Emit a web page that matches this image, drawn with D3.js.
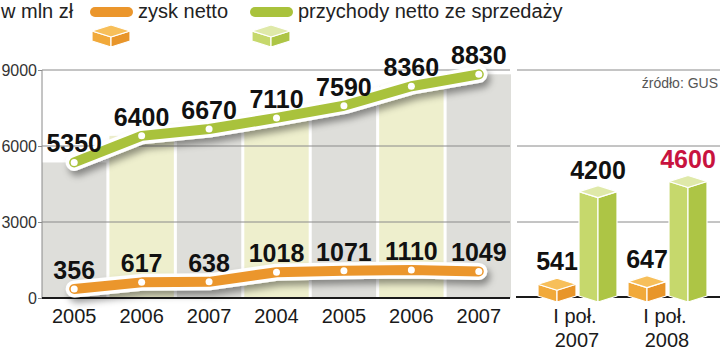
<!DOCTYPE html>
<html lang="pl">
<head>
<meta charset="utf-8">
<title>Zysk i przychody netto</title>
<script src="https://d3js.org/d3.v7.min.js"></script>
<style>
    body { margin: 0; background: #fff; }
    svg { display: block; font-family: "Liberation Sans", Arial, sans-serif; }
    .grid line { stroke: #8a8a8a; stroke-width: 1; }
    .val { font-weight: bold; font-size: 25px; text-anchor: middle; }
    .cat { font-size: 20px; fill: #1a1a1a; text-anchor: middle; }
</style>
</head>
<body>
<script>
// data
const years = ["2005", "2006", "2007", "2004", "2005", "2006", "2007"];
const zysk = [356, 617, 638, 1018, 1071, 1110, 1049];
const przychody = [5350, 6400, 6670, 7110, 7590, 8360, 8830];

const halfYears = ["I poł. 2007", "I poł. 2008"];
const zyskH = [541, 647];
const przychodyH = [4200, 4600];

const yTicks = [0, 3000, 6000, 9000];

const w = 720, h = 352;
const orange = "#eb962c", green = "#a9c23c";

const svg = d3.select("body").append("svg")
    .attr("width", w)
    .attr("height", h);

// shadow for the lines
const defs = svg.append("defs");
defs.append("filter").attr("id", "shadow")
    .attr("x", "-10%").attr("y", "-50%").attr("width", "130%").attr("height", "250%")
  .append("feDropShadow")
    .attr("dx", 3).attr("dy", 5).attr("stdDeviation", 3.5)
    .attr("flood-color", "#000").attr("flood-opacity", 0.4);

// scales
const y = d3.scaleLinear().domain([0, 9000]).range([298, 70]);
const x = d3.scaleBand().domain(d3.range(years.length)).range([42, 511]).paddingInner(0.045);
const xr = d3.scaleBand().domain(halfYears).range([532, 712]);

// background columns (revenue)
svg.append("g").selectAll("rect")
    .data(przychody)
    .join("rect")
    .attr("x", (d, i) => x(i))
    .attr("y", d => y(d))
    .attr("width", x.bandwidth())
    .attr("height", d => y(0) - y(d))
    .attr("fill", (d, i) => i % 2 ? "#eeefcd" : "#dededa");

// grid lines
const grid = svg.append("g").attr("class", "grid");
grid.selectAll("line.l")
    .data(yTicks.slice(1))
    .join("line").attr("class", "l")
    .attr("x1", 42).attr("x2", 510)
    .attr("y1", d => y(d)).attr("y2", d => y(d));
grid.selectAll("line.r")
    .data(yTicks.slice(1))
    .join("line").attr("class", "r")
    .attr("x1", 517).attr("x2", 720)
    .attr("y1", d => y(d)).attr("y2", d => y(d));
grid.append("line")
    .attr("x1", 42).attr("x2", 42)
    .attr("y1", y(9000)).attr("y2", y(0));

// left axis
const leftAxis = d3.axisLeft(y).tickValues(yTicks).tickSize(4).tickFormat(d3.format("d"));
const ax = svg.append("g")
    .attr("transform", "translate(42,0)")
    .call(leftAxis);
ax.select(".domain").remove();
ax.selectAll(".tick line").attr("stroke", "#8a8a8a");
ax.selectAll(".tick text")
    .attr("font-family", "Liberation Sans, Arial, sans-serif")
    .attr("font-size", 16)
    .attr("fill", "#333")
    .attr("x", -5);

// baselines
svg.append("line")
    .attr("x1", 42).attr("x2", 510)
    .attr("y1", y(0)).attr("y2", y(0))
    .attr("stroke", "#1a1a1a").attr("stroke-width", 2);
svg.append("line")
    .attr("x1", 516).attr("x2", 720)
    .attr("y1", y(0) - 1).attr("y2", y(0) - 1)
    .attr("stroke", "#1a1a1a").attr("stroke-width", 2);

// lines
const cx = i => x(i) + x.bandwidth() / 2;
function drawLine(values, color) {
    const line = d3.line()
        .x((d, i) => cx(i))
        .y(d => y(d));
    const g = svg.append("g");
    g.append("path")
        .attr("d", line(values))
        .attr("fill", "none")
        .attr("stroke", "#fff")
        .attr("stroke-width", 17)
        .attr("stroke-linecap", "round")
        .attr("stroke-linejoin", "round")
        .attr("filter", "url(#shadow)");
    g.append("path")
        .attr("d", line(values))
        .attr("fill", "none")
        .attr("stroke", color)
        .attr("stroke-width", 10)
        .attr("stroke-linecap", "round")
        .attr("stroke-linejoin", "round");
    g.selectAll("circle")
        .data(values)
        .join("circle")
        .attr("cx", (d, i) => cx(i))
        .attr("cy", d => y(d))
        .attr("r", 3.5)
        .attr("fill", "#fff");
    svg.append("g").selectAll("text")
        .data(values)
        .join("text")
        .attr("class", "val")
        .attr("x", (d, i) => cx(i))
        .attr("y", d => y(d) - 10)
        .style("fill", "#111")
        .text(d => d);
}
drawLine(zysk, orange);
drawLine(przychody, green);

// year labels
svg.append("g").selectAll("text")
    .data(years)
    .join("text")
    .attr("class", "cat")
    .attr("x", (d, i) => cx(i))
    .attr("y", 323)
    .text(d => d);

// isometric box: centre x, top y, bottom y, width
function box(g, bx, top, bottom, bw, cols) {
    const hw = bw / 2, dz = 6;
    const faces = [
        // left face
        [[bx - hw, top], [bx, top + dz], [bx, bottom + dz], [bx - hw, bottom]],
        // right face
        [[bx, top + dz], [bx + hw, top], [bx + hw, bottom], [bx, bottom + dz]],
        // top face
        [[bx - hw, top], [bx, top - dz], [bx + hw, top], [bx, top + dz]]
    ];
    g.selectAll(null)
        .data(faces)
        .join("path")
        .attr("d", d => "M" + d.join("L") + "Z")
        .attr("fill", (d, i) => cols[i])
        .attr("stroke", "#fff")
        .attr("stroke-width", 1.2)
        .attr("stroke-linejoin", "round");
}
const orangeCols = ["#f1a93a", "#e8952a", "#f7bf5a"];
const greenCols = ["#c6d86c", "#adc545", "#dfe9a9"];

// right panel
const rp = svg.append("g");
halfYears.forEach((k, i) => {
    const c = xr(k) + xr.bandwidth() / 2;
    const bz = c - 20, bp = c + 21;
    box(rp.append("g"), bz, y(zyskH[i]), y(0) - 2, 38, orangeCols);
    box(rp.append("g"), bp, y(przychodyH[i]), y(0) - 2, 38, greenCols);
    rp.append("text").attr("class", "val")
        .attr("x", bz).attr("y", y(zyskH[i]) - 14)
        .style("fill", "#111")
        .text(zyskH[i]);
    rp.append("text").attr("class", "val")
        .attr("x", bp).attr("y", y(przychodyH[i]) - 13)
        .style("fill", i === 1 ? "#c8133f" : "#111")
        .text(przychodyH[i]);
    const parts = k.split(" ");
    rp.append("text").attr("class", "cat")
        .attr("x", c - 2).attr("y", 323)
        .text(parts[0] + " " + parts[1]);
    rp.append("text").attr("class", "cat")
        .attr("x", c).attr("y", 347)
        .text(parts[2]);
});

// source
svg.append("text")
    .attr("x", 718).attr("y", 88)
    .attr("text-anchor", "end")
    .attr("font-size", 14)
    .attr("font-weight", "normal")
    .attr("fill", "#555")
    .text("źródło: GUS");

// legend
const lg = svg.append("g").attr("font-size", 20).attr("font-weight", "normal").attr("fill", "#222");
lg.append("text").attr("x", 1).attr("y", 18).text("w mln zł");
const legendItems = [
    { label: "zysk netto", color: orange, cols: orangeCols, x: 90 },
    { label: "przychody netto ze sprzedaży", color: green, cols: greenCols, x: 250 }
];
legendItems.forEach(it => {
    lg.append("rect")
        .attr("x", it.x).attr("y", 7)
        .attr("width", 43).attr("height", 10)
        .attr("rx", 5)
        .attr("fill", it.color);
    lg.append("text").attr("x", it.x + 48).attr("y", 18).text(it.label);
    box(lg.append("g"), it.x + 21, 31, 41, 38, it.cols);
});
</script>
</body>
</html>
